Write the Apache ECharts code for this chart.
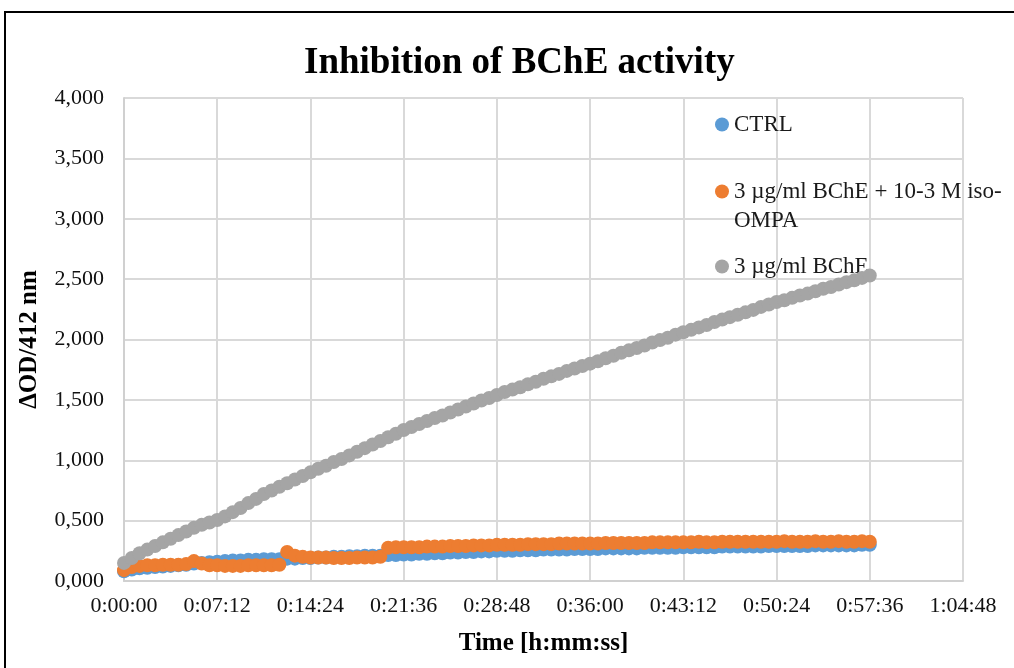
<!DOCTYPE html>
<html>
<head>
<meta charset="utf-8">
<script src="https://cdn.jsdelivr.net/npm/echarts@6/dist/echarts.min.js"></script>
<style>
html,body{margin:0;padding:0;background:#fff;}
#chart{width:1014px;height:668px;}
</style>
</head>
<body>
<div id="chart"></div>
<script>
// time in seconds
const times = [
0,36,72,108,144,180,216,252,288,324,360,396,
432,468,504,540,576,612,648,684,720,756,792,828,
864,900,936,972,1008,1044,1080,1116,1152,1188,1224,1260,
1296,1332,1368,1404,1440,1476,1512,1548,1584,1620,1656,1692,
1728,1764,1800,1836,1872,1908,1944,1980,2016,2052,2088,2124,
2160,2196,2232,2268,2304,2340,2376,2412,2448,2484,2520,2556,
2592,2628,2664,2700,2736,2772,2808,2844,2880,2916,2952,2988,
3024,3060,3096,3132,3168,3204,3240,3276,3312,3348,3384,3420,
3456];

const ctrl = [
0.08,0.095,0.105,0.11,0.115,0.12,0.125,0.13,0.135,0.145,0.15,0.155,
0.16,0.165,0.17,0.17,0.175,0.175,0.18,0.18,0.18,0.185,0.185,0.19,
0.19,0.195,0.195,0.20,0.20,0.205,0.205,0.21,0.21,0.21,0.215,0.215,
0.22,0.22,0.225,0.225,0.23,0.23,0.235,0.235,0.24,0.24,0.245,0.245,
0.25,0.25,0.25,0.255,0.255,0.255,0.26,0.26,0.26,0.26,0.265,0.265,
0.265,0.265,0.27,0.27,0.27,0.27,0.27,0.275,0.275,0.275,0.275,0.275,
0.28,0.28,0.28,0.28,0.28,0.285,0.285,0.285,0.285,0.285,0.285,0.29,
0.29,0.29,0.29,0.29,0.29,0.295,0.295,0.295,0.295,0.295,0.295,0.30,
0.30];

const bcheIso = [
0.09,0.115,0.125,0.13,0.13,0.135,0.135,0.135,0.14,0.165,0.145,0.13,
0.13,0.125,0.125,0.125,0.13,0.13,0.13,0.13,0.135,0.24,0.21,0.20,
0.195,0.195,0.195,0.19,0.19,0.19,0.195,0.195,0.195,0.20,0.275,0.28,
0.28,0.28,0.28,0.285,0.285,0.285,0.29,0.29,0.29,0.295,0.295,0.295,
0.30,0.30,0.30,0.30,0.305,0.305,0.305,0.305,0.31,0.31,0.31,0.31,
0.31,0.31,0.315,0.315,0.315,0.315,0.315,0.315,0.32,0.32,0.32,0.32,
0.32,0.32,0.325,0.32,0.32,0.325,0.325,0.325,0.325,0.325,0.325,0.325,
0.325,0.33,0.325,0.325,0.325,0.33,0.325,0.325,0.33,0.325,0.325,0.33,
0.325];

const bche = [
0.15,0.19,0.23,0.26,0.29,0.32,0.35,0.38,0.41,0.44,0.465,0.485,
0.505,0.535,0.57,0.605,0.645,0.68,0.72,0.75,0.78,0.81,0.84,0.87,
0.90,0.93,0.955,0.985,1.01,1.04,1.07,1.10,1.13,1.16,1.19,1.22,
1.25,1.275,1.30,1.325,1.35,1.37,1.395,1.42,1.445,1.47,1.495,1.515,
1.54,1.565,1.585,1.605,1.63,1.65,1.675,1.695,1.715,1.74,1.76,1.78,
1.80,1.82,1.845,1.865,1.89,1.91,1.93,1.95,1.975,1.995,2.015,2.04,
2.06,2.08,2.10,2.12,2.145,2.165,2.185,2.205,2.225,2.245,2.27,2.29,
2.31,2.325,2.345,2.365,2.38,2.40,2.42,2.435,2.455,2.475,2.49,2.51,
2.53];

const seriesNames = ['CTRL', '3 µg/ml BChE + 10-3 M iso-OMPA', '3 µg/ml BChE'];
const seriesColors = ['#5B9BD5', '#ED7D31', '#A5A5A5'];
const seriesValues = [ctrl, bcheIso, bche];

const titleText = 'Inhibition of BChE activity';
const xAxisTitle = 'Time [h:mm:ss]';
const yAxisTitle = 'ΔOD/412 nm';

function fmtTime(s) {
  const h = Math.floor(s / 3600);
  const m = Math.floor((s % 3600) / 60);
  const sec = Math.round(s % 60);
  return h + ':' + String(m).padStart(2, '0') + ':' + String(sec).padStart(2, '0');
}

const FONT = '"Liberation Serif", "Times New Roman", serif';
const chart = echarts.init(document.getElementById('chart'), null, {renderer: 'canvas'});

const series = seriesNames.map((name, i) => ({
  name: name,
  type: 'scatter',
  symbol: 'circle',
  symbolSize: 14,
  itemStyle: {color: seriesColors[i], opacity: 1},
  emphasis: {disabled: true},
  data: times.map((t, j) => [t, seriesValues[i][j]]),
  z: 2 + i
}));

const legendBase = {
  orient: 'vertical',
  left: 715,
  padding: 0,
  icon: 'circle',
  itemWidth: 14,
  itemHeight: 14,
  itemGap: 0,
  selectedMode: false,
  textStyle: {fontFamily: FONT, fontSize: 23, color: '#1a1a1a', lineHeight: 29}
};

chart.setOption({
  animation: false,
  backgroundColor: '#ffffff',
  title: {
    text: titleText,
    left: 299,
    top: 40,
    textStyle: {fontFamily: FONT, fontSize: 37, fontWeight: 'bold', color: '#000'}
  },
  legend: [
    Object.assign({}, legendBase, {top: 110, data: [seriesNames[0]]}),
    Object.assign({}, legendBase, {top: 148, data: [seriesNames[1]],
      formatter: () => '\n3 µg/ml BChE + 10-3 M iso-\nOMPA'}),
    Object.assign({}, legendBase, {top: 252, data: [seriesNames[2]]})
  ],
  grid: {left: 124, right: 51, top: 98, bottom: 87},
  xAxis: {
    type: 'value',
    min: 0,
    max: 3888,
    interval: 432,
    name: xAxisTitle,
    nameLocation: 'middle',
    nameGap: 50,
    nameTextStyle: {fontFamily: FONT, fontSize: 25, fontWeight: 'bold', color: '#000'},
    axisLine: {show: true, lineStyle: {color: '#D0D0D0', width: 2}},
    axisTick: {show: false},
    axisLabel: {formatter: fmtTime, fontFamily: FONT, fontSize: 22, color: '#111', margin: 14},
    splitLine: {show: true, lineStyle: {color: '#D9D9D9', width: 2}}
  },
  yAxis: {
    type: 'value',
    min: 0,
    max: 4,
    interval: 0.5,
    name: yAxisTitle,
    nameLocation: 'middle',
    nameGap: 82,
    nameTextStyle: {fontFamily: FONT, fontSize: 25, fontWeight: 'bold', color: '#000'},
    axisLine: {show: true, lineStyle: {color: '#D0D0D0', width: 2}},
    axisTick: {show: false},
    axisLabel: {formatter: v => v.toFixed(3).replace('.', ','), fontFamily: FONT, fontSize: 22, color: '#111', margin: 20},
    splitLine: {show: true, lineStyle: {color: '#D9D9D9', width: 2}}
  },
  graphic: [{
    type: 'rect',
    silent: true,
    shape: {x: 5, y: 12, width: 1040, height: 700},
    style: {fill: 'none', stroke: '#000', lineWidth: 2},
    z: 100
  }],
  series: series
});
</script>
</body>
</html>
